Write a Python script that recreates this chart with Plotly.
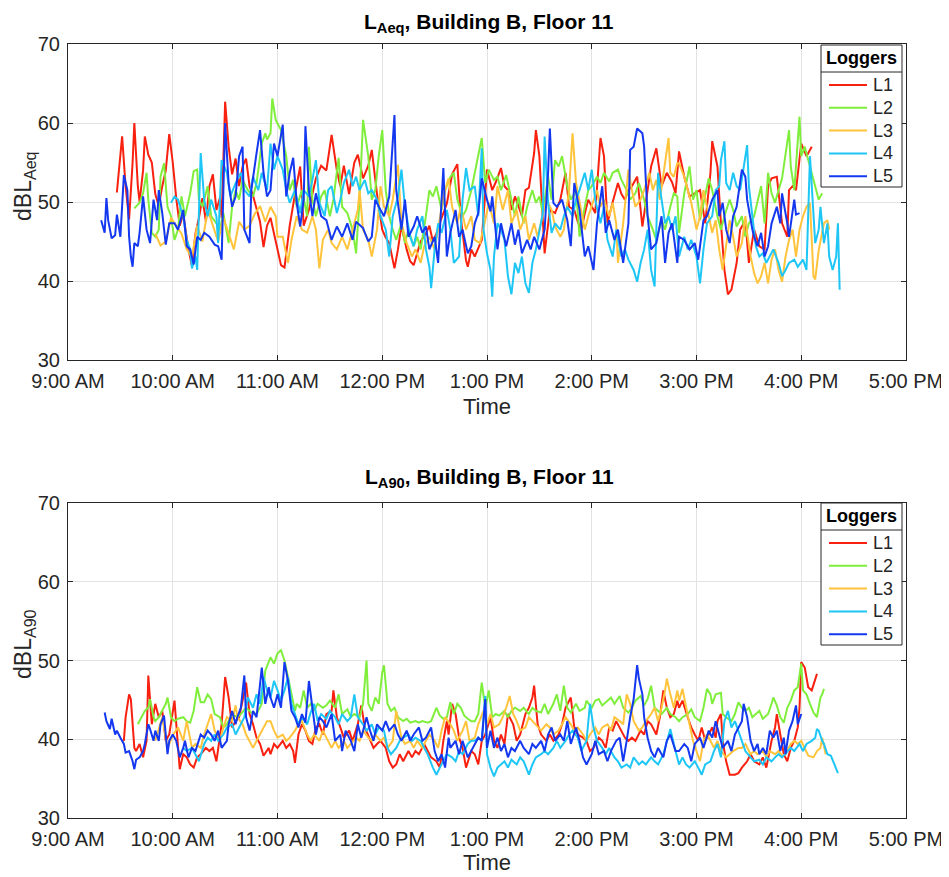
import plotly.graph_objects as go
from datetime import datetime, timedelta

# ---------------- data (minutes after 9:00 AM, dB) ----------------
loggers = ["L1", "L2", "L3", "L4", "L5"]
colors = ["#F8200F", "#80EE3C", "#FFC43C", "#1EC6F6", "#1438F0"]

# ---- L_Aeq ----
aeq_L1_t = [28,30,31,33,35,37,38,40,41,43,44,46,48,50,52,54,56,58,60,62,64,66,69,71,73,75,77,79,81,83,85,87,88,90,92,94,96,98,100,102,104,106,108,110,112,114,
            116,119,122,124,127,130,133,135,138,140,142,145,148,151,154,156,158,161,164,166,169,172,174,177,180,182,184,187,189,191,194,196,198,200,202,205,207,209,211,214,217,220,223,225,228,229,231,
            233,237,240,243,245,248,250,252,254,256,258,260,262,264,267,268,270,273,276,279,282,285,287,290,292,294,296,298,302,305,307,309,312,315,317,319,321,323,326,329,332,334,337,340,343,346,348,
            350,353,356,359,362,365,368,369,372,374,376,378,380,383,385,388,390,393,396,399,401,403,406,409,412,413,415,417,420,423,426]
aeq_L1_v = [51.2,56,58.3,52,47.8,55,60,52,50,54,58.3,56,55,51,49.5,52,54,58.6,55,50.5,47,48.5,44,41.9,46,48,50.5,47.5,52,53.5,49,50.5,48,62.7,57,53.5,55.5,52,54.5,55.5,52,50.8,49,47.5,44.3,47,
            48,45,42,41.7,47,51,54.5,47,49,51,53,54.6,54,58.5,54,52,54.6,51,55,56,53,54.6,56.6,51,46.5,45.5,44.8,41.6,44,47,44,42.5,42,43.5,45,46,47,45,46,48,49.8,53.5,54.8,48,42.6,41.8,44,
            43.1,45.2,54.1,51.5,52.5,54.3,52,51.5,49,50.7,49.5,48.2,51.5,51.8,56.2,59.1,55.8,43.5,49,48.6,50.3,53.7,49.4,49,47.5,46.5,48.5,50.3,48.6,58.1,55.8,47.3,50,52.4,51,50.3,51.5,52,53.2,46.9,51.5,54.5,56.8,52,53.7,52.5,51.1,
            56.4,53.2,50.7,51.1,51.5,47.3,53.7,57.7,54.5,47.3,41.4,38.3,38.9,42.3,46.5,47.7,42.3,46.5,44.4,44,52,53,53.2,47.3,45.6,51.5,52,51.5,57.4,55.8,57]

aeq_L2_t = [38,41,43,45,46,48,50,52,53,55,57,59,61,63,65,67,70,72,74,75,77,80,82,85,87,89,92,94,96,98,100,103,106,108,111,113,114,
            116,117,119,122,125,127,129,131,134,137,138,140,142,145,147,150,152,155,157,160,163,165,167,169,172,174,176,178,180,182,184,186,188,191,193,195,198,200,202,205,207,209,211,214,216,219,221,223,226,228,231,
            233,235,237,239,241,244,246,248,251,254,256,258,261,263,266,268,270,272,275,277,279,281,283,286,288,291,293,296,298,300,303,305,307,310,312,315,317,320,322,325,327,330,332,335,337,340,342,345,347,349,
            350,353,356,358,360,362,365,367,369,372,374,376,379,381,383,386,388,390,393,395,397,399,401,403,405,407,409,413,414,416,419,420,422,425,428,430,432]
aeq_L2_v = [49.2,49.9,51.1,53.7,50.3,46.1,45.6,46.5,53.2,54.9,49.4,48.2,45.2,46.5,50.7,48.2,51.1,53.9,54.1,50.3,49.4,52,48.2,47.3,46.5,48.6,44.8,49.4,51.5,50.3,52.8,51.5,50.7,52.4,57.4,58.7,57.9,
            58.7,63.1,60.4,59.1,55.8,51.5,52.8,49.4,51.5,48.2,57,50.3,48.2,50.7,51.5,48.2,50.3,55.6,49.4,48.6,46.5,43.5,50.3,60.4,55.8,50.3,51.5,55.8,59.1,51.5,48.2,46.5,45.2,47.3,44.8,46.5,44.4,45.6,44,48.2,51.5,50.7,52,49,51.5,53.2,53.7,50.3,48.2,49,51.5,
            53.7,55.8,58.1,52.4,54.1,52.8,53.2,51.5,53.4,50.3,48.2,50.7,47.3,49.4,51.5,49.9,50.7,48.6,53.2,50.3,55.3,54.5,55.8,52,50.3,51.5,45.6,49.4,51.5,52,53.2,52.4,53.7,52.6,53.7,54.1,52.8,51.5,50.3,51.1,52.4,50.3,48.2,46.5,45.2,47.7,46.5,49.4,51.1,50.7,
            46.1,51.1,54.5,50.3,51.5,47.7,50.7,53,51.5,48.2,46.5,48.2,50.3,49,46.9,48.2,45.6,47.3,48.2,50.3,52,47.3,53.7,51.1,49.9,51.5,53,59.1,54.5,51.5,60.8,55.8,57,54.5,52,50.3,51.1]

aeq_L3_t = [50,53,56,59,62,65,68,71,74,77,80,83,86,89,92,95,98,101,104,107,110,113,
            116,119,120,123,126,128,131,134,137,140,142,144,146,149,151,154,157,160,163,166,167,169,172,174,177,179,181,184,186,189,191,194,197,199,202,204,207,210,212,215,218,220,223,225,228,231,
            233,236,239,241,244,246,249,252,254,257,259,262,264,267,269,272,274,277,279,282,284,287,289,291,294,296,298,301,303,305,307,310,312,314,315,318,321,323,325,328,330,333,335,337,339,344,345,347,349,
            350,353,355,357,360,362,364,367,369,371,373,375,377,379,381,383,386,388,389,391,393,395,397,399,401,403,405,407,409,411,413,415,417,419,421,423,425,427,428,430,433,435,436]
aeq_L3_v = [46,44.5,45,48,47,46,44,43,47,45,49,47,45,48,46,44,47.5,46.5,47,48.5,49.5,47.5,
            49.4,48.2,45.6,45.6,42.3,45.2,48.2,46.5,46.1,48.2,46.5,41.6,45.2,46.5,44.8,44,45.6,44,46.5,49,51.5,46.5,45.2,43.1,46.5,52,49.4,48.2,50.3,54.7,47.3,44.8,43.1,44,42.3,44.4,45.6,44,46.5,50.7,53,49.4,47.3,49.4,46.5,48.2,
            45.2,44.8,47.7,49.9,47.3,52,49,51.5,47.3,49,46.5,48.2,45.2,47.3,45.6,48.2,50.3,49,46.9,45.6,46.5,51.5,58.7,52.4,49,46.5,48.2,50.3,51.5,49.4,50.3,48.2,49.9,47.3,42.3,47.3,54.1,51.5,49.4,50.3,51.5,53.7,51.5,52.8,50.3,58.1,53.7,53.2,54.9,
            54.9,53.2,51.5,49.9,46.5,48.2,51.5,48.2,46.1,47.7,44,41.4,44.4,47.7,45.6,43.1,44.8,48.2,46.1,43.1,41,39.7,40.6,42.3,39.7,42.7,44,41.4,39.9,43.1,45.2,46.5,43.1,46.5,48.2,49.4,49.9,40.6,40.2,43.9,47.3,47.7,46.5]

aeq_L4_t = [59,61,63,66,68,70,71,73,74,75,76,78,80,82,85,86,88,91,93,96,99,101,104,106,109,111,114,
            116,118,120,123,125,127,130,133,135,138,140,142,144,147,149,151,154,156,158,161,163,165,167,170,172,174,177,179,182,184,186,189,191,193,196,198,200,203,205,207,208,210,212,214,217,219,221,224,226,228,230,
            233,235,237,238,240,242,243,244,246,248,250,252,254,256,258,260,262,264,266,268,270,272,273,275,277,279,282,284,286,289,291,293,296,298,300,302,305,307,309,312,314,317,319,321,324,326,328,330,332,334,336,338,340,342,344,346,348,
            350,353,355,357,360,362,364,366,369,371,373,374,376,377,379,381,383,385,387,389,390,392,394,396,398,400,402,404,407,409,411,413,416,418,421,423,425,426,428,430,431,433,435,436,438,440,441,442]
aeq_L4_v = [49.9,50.7,50.3,48.2,45.2,44,41.6,43.1,41.4,48.2,56.2,50.3,48.2,50.3,48.2,44.8,55.3,53.7,50.7,52.4,53.7,51.5,50.7,53.2,51.5,53.7,51.5,
            57.4,54.1,55.8,54.1,51.5,49.9,51.5,48.6,51.5,50.7,52.8,55.3,49.9,48.2,51.5,52,48.6,50.3,52.4,54.1,52,53.2,51.5,52.8,51.1,51.5,50.3,48.2,46.5,43.1,48.2,50.7,54.1,49.4,45.6,44.4,46.5,48.2,44,41.8,39.1,44,47.3,46.1,49,46.5,42.3,43.1,50.3,54.3,51.5,
            52,48.2,56.8,46.5,43.5,41.4,38,43.1,47.3,46.5,45.2,40.6,38.3,42.3,41,43.1,39.7,38.5,42.3,44,46.5,48.6,58.3,49.9,46.1,47.3,46.5,48.2,49.4,48.2,50.3,51.5,53.7,51.5,54.1,50.3,47.3,49.4,45.2,43.1,46.5,43.1,44,42.7,41.4,39.9,42.3,44,46.5,41.4,39.3,53.7,50.3,47.3,48.2,46.5,48.2,
            43.1,45.6,44,45.2,43.1,39.7,44,47.3,48.2,51.5,52,55.3,57.7,52.4,51.5,53.7,52,51.5,54.5,57.2,52,48.2,44.4,43.1,43.5,42.3,43.1,44,42.3,40.6,41.4,42.3,42.7,41.8,42.7,41.4,55.8,52.4,44.8,46.5,49.4,44.8,47.3,43.1,41.4,43.1,47.3,38.9]

aeq_L5_t = [19,21,22,23,25,27,28,30,32,34,35,36,37,38,40,41,43,45,47,49,51,52,54,56,58,61,63,66,68,70,72,74,76,78,81,84,86,88,89,90,92,94,96,98,100,101,104,105,108,110,112,114,
            116,118,120,123,125,127,129,131,133,135,136,138,140,142,145,148,151,154,157,160,163,165,169,172,174,176,179,181,184,187,188,191,193,195,198,200,203,205,207,210,212,215,217,219,222,224,226,229,231,
            233,235,237,240,242,243,246,248,251,254,256,258,260,263,265,267,270,273,275,276,278,280,283,286,288,290,293,296,298,301,303,306,308,310,313,315,318,321,322,324,326,329,330,332,334,337,340,342,344,346,349,
            350,353,356,359,361,364,366,369,372,373,375,377,379,381,383,386,388,389,392,393,395,397,399,401,403,406,408,409,412,413,416,417,419]
aeq_L5_v = [47.7,46.1,50.5,47.7,45.4,45.8,48.4,45.6,53.4,51.5,45.6,43.1,41.8,44.8,44.4,46.1,50.7,46.5,44.8,50.3,47.7,51.5,48.6,44.6,47.3,47.3,46.5,49,44.4,44,42.1,45.6,45.2,46.1,45.6,44.6,44.4,42.7,51.5,60,52.4,49.4,50.7,55.8,57,46.5,44.8,51.5,56.2,59.1,53.7,50.7,
            51.5,57.4,55.8,59.8,50.7,53.7,55.6,49.9,46.9,50.3,59.6,51.5,48.2,51.1,48.2,47.7,45.2,46.9,45.6,47.3,45.2,47.5,46.7,45,45.6,50.3,49,48.2,50.7,61,51.5,46.5,50.3,45.6,46.9,48.2,46.1,46.9,44,45.6,42.3,54.3,43.1,46.1,49,45.6,46.5,43.5,44.4,
            47.3,48.6,53,50.3,48.8,50.7,44,47.3,44.4,47.3,44.6,46.5,43.5,45.2,44,45.6,44,46.5,53.7,59.3,49.9,49.4,50.3,47.7,44.4,52.4,49,43.1,44.4,41.4,47.3,52,46.1,47.7,45.2,46.5,42.3,47.3,56.6,57,59.3,58.7,57,48.2,44,44.8,48.2,42.3,46.1,47.3,42.3,
            45.6,45.2,44,44.8,42.7,47.7,48.2,50.3,51.5,48.2,49.9,46.5,44.8,48.2,49.4,54.1,53.2,50.3,46.5,45.6,44.4,46.1,43.1,44.4,47.3,49.4,47.3,51.1,47.3,45.6,50.3,48.4,48.6]

# ---- L_A90 ----
a90_L1_t = [32,33,35,36,38,39,41,43,45,46,48,50,52,54,56,58,61,63,64,66,68,70,72,74,76,79,81,83,85,88,90,92,94,96,98,100,102,104,106,108,110,112,115,
            116,118,120,123,125,127,129,130,132,134,136,138,140,142,144,146,148,151,152,154,156,158,161,163,166,168,170,173,175,177,179,182,184,186,188,190,192,195,197,199,201,204,206,208,211,213,215,217,218,220,222,224,226,228,231,
            233,235,237,239,242,244,246,248,250,252,255,257,259,262,264,266,267,269,271,274,276,278,281,283,285,288,290,292,295,297,299,301,304,306,308,310,312,314,316,319,321,323,325,328,330,332,334,337,339,341,343,345,347,349,
            350,352,355,357,359,361,363,365,367,369,371,372,374,375,377,379,382,384,386,389,391,393,396,398,400,403,405,406,408,410,412,414,416,418,419,420,422,424,426,427,429]
a90_L1_v = [39.8,42.8,45.7,45.1,38.9,38.5,39.4,37.7,39.8,48.1,41.9,44.5,42.8,43.6,39.8,40.6,44.9,38.5,36.2,38.1,37.7,36.8,36.4,37.7,38.1,38.9,38.5,38.9,37.2,41.9,47.9,45.3,41.5,42.3,42.8,44.9,47.2,43.2,41.9,40.2,39.4,37.9,38.9,
            38.1,39.4,38.9,39.8,38.9,39.4,38.5,37,40.6,41.9,41.1,39.8,39.4,41.5,41.9,40.6,43.2,43.6,46.2,42.8,41.5,40.2,41.1,39.8,41.9,44.3,41.5,39.8,38.9,39.4,39.8,38.9,37.2,36.4,36.8,38.1,37.2,38.5,37.7,38.5,38.1,39.4,38.5,37.7,37.2,36.4,39.8,42.3,40.6,44.5,43.2,40.2,38.9,36.4,38.5,
            38.1,36.8,39.8,40.6,42.8,39.8,38.9,40.6,39.4,43.2,41.9,39.8,40.6,43.2,44,45.3,46.8,41.9,40.6,39.8,40.6,39.8,40.6,41.9,44,45.3,41.5,40.6,40.2,39.8,38.5,38.9,40.2,39.8,38.9,41.5,41.1,42.3,41.5,40.2,39.8,40.2,39.8,41.1,40.6,42.3,41.9,40.6,42.8,46.2,44,42.8,43.2,44.9,
            44,44.9,42.8,41.5,40.6,39.8,41.5,39.8,40.6,41.5,40.2,42.3,43.2,39.8,37.2,35.5,35.5,35.7,36.4,37.2,38.1,37.2,36.8,37.7,36.4,39.8,41.5,43.2,40.6,38.1,37.2,38.9,39.8,41.5,44,49.8,49.1,46.6,46.2,47,48.3]

a90_L2_t = [40,42,44,46,47,49,50,52,54,56,57,59,61,63,66,68,70,72,74,76,78,80,82,84,87,89,91,94,97,99,102,105,108,111,113,115,
            116,118,120,122,124,126,128,130,131,133,135,137,139,141,143,146,148,150,153,155,157,160,162,164,167,169,171,172,174,176,178,180,181,183,185,187,189,192,194,196,199,201,203,206,208,211,213,215,217,219,221,223,225,227,229,231,
            233,235,237,239,241,243,245,247,250,252,254,256,259,261,264,266,268,271,273,275,278,280,282,284,286,288,291,293,296,297,300,302,304,306,309,311,313,316,318,321,323,325,328,330,332,334,336,338,340,343,345,348,
            350,352,355,357,359,362,364,366,368,369,371,374,375,377,380,382,384,386,388,390,392,394,396,398,401,403,404,406,408,410,412,414,416,418,420,421,423,425,427,429,431,432,433]
a90_L2_v = [41.9,42.8,43.6,44,45.1,42.8,42.3,42.8,43.6,44.5,45.3,42.8,42.3,42.6,42.8,42.3,42.1,43.6,46.6,44.7,44.7,45.7,45.1,43.2,42.8,41.5,41.9,43.2,42.8,43.2,44,43.4,43.2,44.5,48.7,50,
            50.4,49.6,50.9,51.3,50,47.9,45.7,43.6,44.5,44,46.2,44,44.5,43.6,44.5,44,44.3,44.9,44,45.7,43.2,43.8,42.8,43.2,42.8,44.5,50,44.5,43.6,45.3,44.5,48.5,49.4,44.5,43.6,44,42.8,42.3,42.6,42.1,42.3,42.1,42.3,42.1,42.3,44,43,42.6,42.8,44.7,43.2,44.5,44,43,42.6,42.3,
            42.3,43.2,47.2,44,46.2,42.8,43.2,43,43.6,42.8,43.6,44,43.6,44,43.2,44,43.6,43.4,44.5,43.2,44.5,45.7,43.6,46.8,44,43.4,44.5,43.6,44,44.9,44,44.9,45.1,44.3,44.9,45.3,44.5,45.5,44,43.4,44,44.9,45.5,44.3,45.1,46.8,44,43.6,43.2,44,43.2,42.8,
            42.3,42.8,43.2,43.8,42.8,42.3,44,46.4,45.7,44.5,45.7,45.9,43.2,42.8,42.3,43.2,44.7,44,43.6,44,42.8,43.2,43.6,42.6,43.2,44.5,45.3,44.3,42.8,42.1,44,44.9,46.2,46.6,49.6,46.2,45.7,44.5,43.4,42.8,45.3,45.7,46.4]

a90_L3_t = [50,54,57,60,63,66,68,71,73,76,78,80,82,84,87,89,91,94,96,97,100,102,104,106,108,110,112,114,
            116,118,120,123,125,127,130,132,134,137,139,141,144,146,148,151,153,155,158,160,162,165,167,169,172,174,176,179,181,183,186,188,191,193,196,198,200,203,205,207,210,212,214,216,219,221,223,226,228,230,
            233,235,238,240,242,244,247,249,251,253,255,257,259,262,264,266,269,271,274,276,278,281,283,285,288,290,292,295,297,299,302,304,306,309,311,313,316,318,320,322,324,327,329,331,334,336,338,340,342,343,345,347,349,
            350,352,354,356,358,360,362,364,366,368,370,372,374,377,379,381,384,386,388,391,393,395,398,400,402,405,407,409,411,414,416,418,420,422,424,427,429,431,432,434]
a90_L3_v = [39.8,42.8,38.9,40.5,41.5,39.8,42.3,38.9,39.4,38.9,40.6,41.9,43.2,41.1,39.8,41.5,42.8,42.3,44.3,42.8,41.9,40.6,39.8,38.9,39.8,40.6,41.5,42.3,
            42.3,41.1,40.2,40.6,39.8,40.2,41.1,41.9,42.3,40.6,39.8,40.6,39.8,41.1,40.2,38.9,39.8,38.9,39.8,38.9,39.4,40.2,39.8,41.1,40.2,39.8,40.6,39.8,40.2,38.9,39.8,43.6,40.2,39.4,39.8,38.9,39.8,38.9,39.8,40.6,39.8,38.9,41.1,42.8,41.9,41.1,39.8,41.1,42.3,39.8,
            40.2,41.9,43.6,41.9,43.2,41.5,41.9,42.8,44,45.5,43.2,42.3,41.1,41.5,42.8,42.3,41.5,41.1,41.9,41.5,40.6,41.1,41.9,42.8,41.9,41.1,41.5,40.6,39.8,40.6,41.5,40.6,41.5,41.9,41.1,42.8,42.3,41.9,45.7,44.5,42.3,41.1,41.5,42.3,43.2,44,42.3,44,46.2,47.7,45.7,44,46.2,
            44.9,46.4,44,41.9,39.8,38.5,37.2,39.8,40.6,39.8,38.9,39.8,38.5,37.7,38.1,38.5,38.9,38.9,39.4,38.1,38.5,38.1,38.5,37.7,38.5,38.1,38.5,37.9,38.1,39.4,39.8,39.4,39.8,38.9,37.9,37.7,38.5,38.9,40.2,38.1]

a90_L4_t = [66,68,71,73,75,78,80,82,84,86,89,91,94,96,98,101,103,106,108,110,112,114,
            116,118,120,122,124,126,128,130,132,134,137,139,141,143,145,148,150,153,155,157,160,162,164,166,169,171,174,176,178,181,183,185,188,190,192,195,197,199,202,204,206,209,211,213,215,217,220,222,224,226,229,231,
            233,235,237,239,240,242,244,246,248,250,252,254,257,259,261,264,266,268,271,273,275,278,280,282,285,287,289,292,294,297,299,301,303,306,308,310,313,315,317,320,322,324,327,329,331,334,336,338,341,343,345,348,
            350,352,354,356,359,361,363,365,368,370,372,374,376,378,380,382,384,386,388,391,393,396,398,400,403,405,407,409,412,414,416,419,421,423,426,428,429,430,432,433,435,437,439,441]
a90_L4_v = [38.9,38.5,38.9,38.1,37.2,39.4,40.2,39.8,40.6,39.8,40.6,41.5,41.9,40.6,41.5,42.8,45.3,44,45.7,44.5,47.9,46.2,
            45.3,47.4,46.2,44.9,46.2,47.9,44.5,43.2,41.9,42.8,41.9,43.4,44.5,42.3,43.2,42.6,43.6,42.8,41.9,43.2,42.3,42.8,45.7,42.8,41.9,41.1,41.9,40.6,41.5,41.1,38.9,38.1,38.9,39.8,40.2,40.6,39.8,40.2,39.8,38.9,38.1,36.4,35.5,36.4,37.2,38.1,37.7,37.2,38.5,38.1,39.4,39.8,
            39.8,40.2,39.8,45.5,38.1,36.4,35.3,36.4,36.8,37.2,36.4,37.4,36.8,37.7,37.2,35.5,36.8,37.7,38.1,38.5,38.1,38.9,39.8,38.9,39.8,40.6,41.1,40.2,38.5,39.8,44.5,41.5,39.8,38.9,38.1,38.9,37.7,37.2,36.4,36.8,36.4,37.7,36.8,37.2,36.8,37.7,37.2,36.8,38.1,39.8,41.3,38.5,
            36.8,37.7,36.8,36.4,37.2,36.4,35.5,36.8,37.2,38.5,39.4,37.7,42.3,43.6,41.5,42.3,41.1,39.8,38.5,37.7,37.2,37.4,36.8,37.7,37.2,37.7,38.1,37.7,38.5,38.9,38.5,39.4,38.5,39.4,39.8,40.2,41.3,41.1,39.8,39.4,38.1,37.9,36.8,35.7]

a90_L5_t = [21,22,24,25,27,28,30,32,33,35,37,38,39,41,43,44,46,47,49,50,52,53,55,57,58,60,62,64,66,67,69,71,73,76,78,80,82,84,86,88,91,92,94,96,97,99,101,102,104,106,108,110,111,113,115,
            116,118,120,122,124,126,128,130,132,134,136,138,140,142,144,146,148,151,153,156,157,159,162,164,166,168,171,173,175,177,180,182,184,187,189,191,194,196,198,201,203,205,208,210,212,214,216,218,219,222,224,226,229,231,
            233,235,237,239,240,242,244,246,248,250,252,254,256,259,261,264,266,268,271,273,275,277,279,282,284,286,288,291,293,295,297,300,302,304,307,309,311,314,316,318,320,322,324,325,326,327,329,330,332,334,336,338,341,343,345,348,
            350,353,355,357,359,362,364,367,369,371,373,375,378,380,382,384,386,387,389,391,393,395,396,398,400,402,404,406,408,410,411,413,415,417,418,420]
a90_L5_v = [43.4,42.3,41.3,42.6,40.6,41.1,40.2,39.4,38.3,38.5,37.2,36.2,37.4,37.7,38.5,39.4,41.9,41.3,39.8,41.1,39.8,41.9,43,38.1,39.8,40.6,39.8,37.7,38.9,39.8,37.7,38.9,38.5,40.6,40.2,41.1,40.6,39.8,41.1,38.9,39.8,41.9,43.6,41.9,42.8,44,48.1,42.8,41.1,43.6,42.8,47.2,49.1,44.5,46.6,
            45.3,44,45.7,44,49.8,47.4,43.6,42.8,41.5,43.2,42.1,47.4,44,40.6,42.8,42.3,41.5,43.2,39.8,40.6,38.5,41.1,39.8,38.5,41.9,40.2,42.8,41.1,39.8,41.9,41.1,42.3,41.1,41.9,40.6,39.8,41.1,39.8,40.6,41.5,39.8,40.2,41.5,38.5,37.2,38.1,36.4,40.2,38.9,39.8,38.1,39.8,37.7,38.5,
            39.4,40.2,39.8,45.1,38.9,41.1,38.9,40.2,38.5,39.4,37.7,38.9,38.5,39.8,38.9,38.1,39.4,38.9,39.8,38.5,40.6,41.5,39.8,40.6,39.8,42.3,39.4,41.5,39.8,37.7,36.8,38.1,39.8,38.1,38.5,37.2,38.5,39.8,40.2,37.2,39.8,42.8,45.1,47,49.4,47.7,45.7,42.8,40.2,38.5,37.7,38.9,37.7,39.8,40.6,38.5,
            38.5,39.4,38.9,37.2,39.4,40.2,38.9,41.1,40.2,42.3,40.6,38.9,39.8,38.5,40.6,41.5,42.3,44.5,42.8,39.8,38.5,39.4,38.1,38.9,38.1,41.1,40.2,41.1,38.5,40.2,38.1,41.1,42.3,44.3,41.9,43.2]

hour_ticks = ["9:00 AM", "10:00 AM", "11:00 AM", "12:00 PM", "1:00 PM",
              "2:00 PM", "3:00 PM", "4:00 PM", "5:00 PM"]
y_ticks = [30, 40, 50, 60, 70]

# ---------------- figure ----------------
base = datetime(2024, 1, 1, 9, 0)


def to_time(mins):
    return [base + timedelta(minutes=m) for m in mins]


top = [(aeq_L1_t, aeq_L1_v), (aeq_L2_t, aeq_L2_v), (aeq_L3_t, aeq_L3_v),
       (aeq_L4_t, aeq_L4_v), (aeq_L5_t, aeq_L5_v)]
bot = [(a90_L1_t, a90_L1_v), (a90_L2_t, a90_L2_v), (a90_L3_t, a90_L3_v),
       (a90_L4_t, a90_L4_v), (a90_L5_t, a90_L5_v)]

fig = go.Figure()
for i, (t, v) in enumerate(top):
    pairs = sorted(zip(t, v))
    fig.add_trace(go.Scatter(x=to_time([p[0] for p in pairs]), y=[p[1] for p in pairs],
                             mode="lines", name=loggers[i], line=dict(color=colors[i], width=2),
                             xaxis="x", yaxis="y", showlegend=False))
for i, (t, v) in enumerate(bot):
    pairs = sorted(zip(t, v))
    fig.add_trace(go.Scatter(x=to_time([p[0] for p in pairs]), y=[p[1] for p in pairs],
                             mode="lines", name=loggers[i], line=dict(color=colors[i], width=2),
                             xaxis="x2", yaxis="y2", showlegend=False))

ink = "#262626"
FONT = "Liberation Sans, Arial, sans-serif"
tickvals = [base + timedelta(hours=h) for h in range(9)]

# The page body adds an 8 px margin, so the figure is 8 px smaller than the window
# and all positions below are given in window pixels.
W, H = 941, 869
ml, mr, mt, mb = 60, 43, 36, 59
ph = H - mt - mb
pw = W - ml - mr
OFF = 8


def py(pix):
    return 1 - (pix - OFF - mt) / ph


def px(pix):
    return (pix - OFF - ml) / pw


def xaxis_cfg(anchor):
    return dict(anchor=anchor, domain=[0, 1], type="date", automargin=False,
                range=[base, base + timedelta(hours=8)],
                tickvals=tickvals, ticktext=hour_ticks,
                showgrid=True, gridcolor="#e3e3e3", gridwidth=1,
                showline=True, linecolor=ink, linewidth=1, mirror="ticks",
                ticks="inside", ticklen=5, tickcolor=ink, ticklabelstandoff=3,
                tickfont=dict(size=20, color=ink, family=FONT),
                zeroline=False)


def yaxis_cfg(anchor, dom):
    return dict(anchor=anchor, domain=dom, range=[30, 70], tickvals=y_ticks, automargin=False,
                showgrid=True, gridcolor="#e3e3e3", gridwidth=1,
                showline=True, linecolor=ink, linewidth=1, mirror="ticks",
                ticks="inside", ticklen=5, tickcolor=ink, ticklabelstandoff=3,
                tickfont=dict(size=20, color=ink, family=FONT),
                zeroline=False)


top_dom = [py(360), py(44)]
bot_dom = [py(818), py(503)]

fig.update_layout(
    width=W, height=H,
    margin=dict(l=ml, r=mr, t=mt, b=mb),
    paper_bgcolor="white", plot_bgcolor="white",
    font=dict(family=FONT, color=ink),
    xaxis=xaxis_cfg("y"),
    yaxis=yaxis_cfg("x", top_dom),
    xaxis2=xaxis_cfg("y2"),
    yaxis2=yaxis_cfg("x2", bot_dom),
    showlegend=False,
)

# legend boxes (decoration, one per panel)
shapes = []
annots = []
for top_pix in (45, 503):
    shapes.append(dict(type="rect", xref="paper", yref="paper",
                       x0=px(821), x1=px(902), y0=py(top_pix + 142), y1=py(top_pix),
                       line=dict(color=ink, width=1), fillcolor="white", layer="above"))
    shapes.append(dict(type="line", xref="paper", yref="paper",
                       x0=px(821), x1=px(902), y0=py(top_pix + 27), y1=py(top_pix + 27),
                       line=dict(color=ink, width=1), layer="above"))
    annots.append(dict(text="<b>Loggers</b>", xref="paper", yref="paper",
                       x=px(861.5), y=py(top_pix + 13), xanchor="center", yanchor="middle",
                       showarrow=False, font=dict(size=18, color="black", family=FONT)))
    for i, name in enumerate(loggers):
        yy = top_pix + 40 + 22.8 * i
        shapes.append(dict(type="line", xref="paper", yref="paper",
                           x0=px(829), x1=px(867), y0=py(yy), y1=py(yy),
                           line=dict(color=colors[i], width=2), layer="above"))
        annots.append(dict(text=name, xref="paper", yref="paper",
                           x=px(871), y=py(yy), xanchor="left", yanchor="middle",
                           showarrow=False, font=dict(size=18, color=ink, family=FONT)))

# axis labels
for sub, cy in (("Aeq", 186), ("A90", 644)):
    annots.append(dict(text="dBL<sub>%s</sub>" % sub, xref="paper", yref="paper",
                       x=px(24), y=py(cy), xanchor="center", yanchor="middle", textangle=-90,
                       showarrow=False, font=dict(size=23, color=ink, family=FONT)))
for cy in (407, 862):
    annots.append(dict(text="Time", xref="paper", yref="paper",
                       x=px(487), y=py(cy), xanchor="center", yanchor="middle",
                       showarrow=False, font=dict(size=22, color=ink, family=FONT)))

annots.append(dict(text="<b>L<sub>Aeq</sub>, Building B, Floor 11</b>", xref="paper", yref="paper",
                   x=px(489), y=py(23), xanchor="center", yanchor="middle", showarrow=False,
                   font=dict(size=21, color="black", family=FONT)))
annots.append(dict(text="<b>L<sub>A90</sub>, Building B, Floor 11</b>", xref="paper", yref="paper",
                   x=px(489), y=py(478), xanchor="center", yanchor="middle", showarrow=False,
                   font=dict(size=21, color="black", family=FONT)))

fig.update_layout(shapes=shapes, annotations=annots)

fig.write_html("out.html")
